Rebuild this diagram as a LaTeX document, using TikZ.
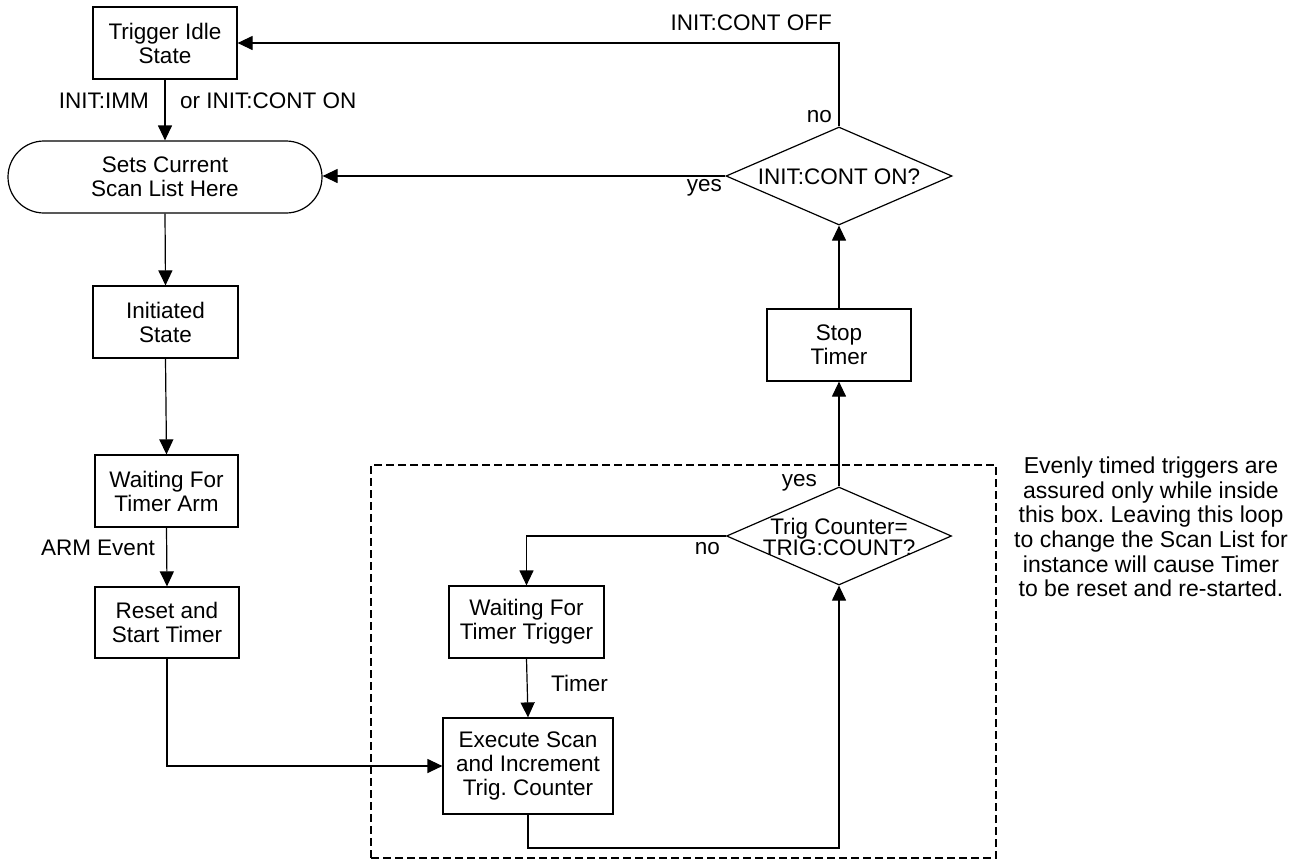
\documentclass[tikz,border=0pt]{standalone}
\usepackage{fontspec}
\setmainfont{Liberation Sans}
\usetikzlibrary{arrows.meta,shapes.geometric}
\frenchspacing
\begin{document}
\begin{tikzpicture}[x=1pt,y=-1pt,
  every node/.style={font=\fontsize{22.5}{24}\selectfont},
  box/.style={draw, line width=1.2pt, rectangle, align=center, inner sep=0pt,
    minimum width=144pt, minimum height=72pt},
  stadium/.style={box, rounded corners=36pt, minimum width=314pt},
  dia/.style={draw, shape=diamond, inner sep=0pt, line width=1.2pt,
    minimum width=225pt, minimum height=98pt},
  diatext/.style={align=center, inner sep=0pt},
  lbl/.style={inner sep=0pt},
  arr/.style={line width=1.2pt, -{Triangle[length=15pt,width=14pt]}},
  conn/.style={line width=1.2pt},
  loopbox/.style={draw, line width=1.2pt, dash pattern=on 8pt off 4pt, rectangle, inner sep=0pt},
  note/.style={align=center, inner sep=0pt, font=\fontsize{23}{24.6}\selectfont}
]
\useasboundingbox (0,0) rectangle (1302,863);

% dashed loop box
\node[loopbox, minimum width=625pt, minimum height=393pt] (loopbox) at (683.5,661.5) {};

% left column
\node[box] (idle) at (165,43) {Trigger Idle\\State};
\node[stadium] (sets) at (165,177) {Sets Current\\Scan List Here};
\node[box, minimum width=145pt] (init) at (165.5,322) {Initiated\\State};
\node[box, minimum width=143pt] (arm) at (166.5,491) {Waiting For\\Timer Arm};
\node[box, minimum height=71pt] (reset) at (167,622.5) {Reset and\\Start Timer};

% loop
\node[box, minimum width=155pt] (wait) at (526.5,622) {Waiting For\\Timer Trigger};
\node[box, minimum width=170pt, minimum height=96pt] (exec) at (528,766) {Execute Scan\\and Increment\\Trig. Counter};
\node[dia] (trig) at (839,536) {};
\node[diatext, font=\fontsize{22.5}{20.5}\selectfont] (trigt) at (839,537) {Trig Counter=\\TRIG:COUNT?};

% right column
\node[box] (stop) at (839,345) {Stop\\Timer};
\node[dia, minimum width=226pt] (cont) at (839,176) {};
\node[diatext] (contt) at (839,177) {INIT:CONT ON?};

% note
\node[note] (notetext) at (1151,527) {Evenly timed triggers are\\assured only while inside\\this box. Leaving this loop\\to change the Scan List for\\instance will cause Timer\\to be reset and re-started.};

% labels
\node[lbl, anchor=east] (limm) at (149,101) {INIT:IMM};
\node[lbl, anchor=west] (lcon) at (180,101) {or INIT:CONT ON};
\node[lbl, anchor=east] (larm) at (155,548) {ARM Event};
\node[lbl, anchor=west] (ltimer) at (551,683) {Timer};
\node[lbl, anchor=east] (loff) at (832,23) {INIT:CONT OFF};
\node[lbl, anchor=east] (lno1) at (832,117) {no};
\node[lbl, anchor=east] (lyes1) at (722,188) {yes};
\node[lbl, anchor=east] (lyes2) at (817,483) {yes};
\node[lbl, anchor=east] (lno2) at (720,549) {no};

% connectors
\coordinate (lb) at (528,848);
\draw[arr] (idle.south) -- (sets.north);
\draw[arr] (sets.south) -- (init.north);
\draw[arr] (init.south) -- (arm.north);
\draw[arr] (arm.south) -- (reset.north);
\draw[arr] (reset.south) |- (exec.west);
\draw[arr] (wait.south) -- (exec.north);
\draw[arr] (exec.south) -- (lb) -| (trig.south);
\draw[arr] (trig.north) -- (stop.south);
\draw[arr] (trig.west) -| (wait.north);
\draw[arr] (stop.north) -- (cont.south);
\draw[arr] (cont.west) -- (cont.west -| sets.east);
\draw[arr] (cont.north) |- (idle.east);
\end{tikzpicture}
\end{document}
